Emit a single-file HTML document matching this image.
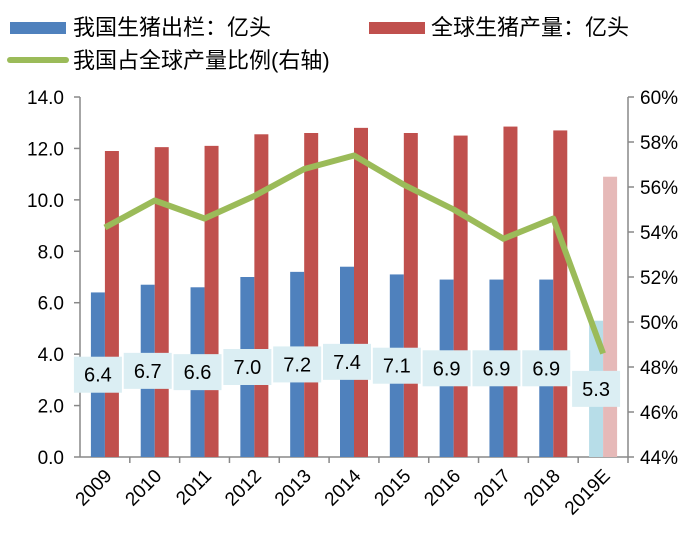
<!DOCTYPE html>
<html><head><meta charset="utf-8"><style>
body{margin:0;background:#fff;}
svg text{font-family:"Liberation Sans","Noto Sans CJK SC",sans-serif;}
</style></head><body>
<svg width="700" height="534">
<g>
<rect x="10" y="22" width="56" height="12" fill="#4f81bd"/>
<text x="73" y="35" font-size="22" fill="#000">我国生猪出栏：亿头</text>
<rect x="369" y="22" width="56" height="12" fill="#c0504d"/>
<text x="431" y="35" font-size="22" fill="#000">全球生猪产量：亿头</text>
<line x1="10" y1="60" x2="66" y2="60" stroke="#9bbb59" stroke-width="6" stroke-linecap="round"/>
<text x="73" y="68" font-size="22" fill="#000">我国占全球产量比例(右轴)</text>
</g>
<g id="axes"></g><g id="bars"></g><g id="line"></g><g id="labels"></g>
</svg>
<script>
const categories=["2009","2010","2011","2012","2013","2014","2015","2016","2017","2018","2019E"];
const chinaValues=[6.4,6.7,6.6,7.0,7.2,7.4,7.1,6.9,6.9,6.9,5.3];
const globalValues=[11.9,12.05,12.1,12.55,12.6,12.8,12.6,12.5,12.85,12.7,10.9];
const shareValues=[54.2,55.4,54.6,55.6,56.8,57.4,56.1,55.0,53.7,54.6,48.6];
const leftTicks=["0.0","2.0","4.0","6.0","8.0","10.0","12.0","14.0"];
const rightTicks=["44%","46%","48%","50%","52%","54%","56%","58%","60%"];
const NS="http://www.w3.org/2000/svg";
const X0=80,X1=628,Y0=457,Y1=97;
const cw=(X1-X0)/categories.length;
const xc=i=>X0+cw*(i+0.5);
const yl=v=>Y0-(v/14)*(Y0-Y1);
const yr=v=>Y0-((v-44)/16)*(Y0-Y1);
function mk(t,a,p){const e=document.createElementNS(NS,t);for(const k in a)e.setAttribute(k,a[k]);p.appendChild(e);return e;}
const ax=document.getElementById('axes'),bg=document.getElementById('bars'),lg=document.getElementById('line'),lb=document.getElementById('labels');
let e=mk('line',{x1:X0,y1:Y1,x2:X0,y2:Y0,stroke:'#888','stroke-width':1.5},ax);


e=mk('line',{x1:X1,y1:Y1,x2:X1,y2:Y0,stroke:'#888','stroke-width':1.5},ax);


e=mk('line',{x1:X0,y1:Y0,x2:X1,y2:Y0,stroke:'#888','stroke-width':1.5},ax);


leftTicks.forEach((t,i)=>{const y=yl(parseFloat(t));
mk('line',{x1:X0-6,y1:y,x2:X0,y2:y,stroke:'#888','stroke-width':1.5},ax);
const tx=mk('text',{x:X0-16,y:y+7,'font-size':19,'text-anchor':'end'},ax);tx.textContent=t;

});
rightTicks.forEach((t,i)=>{const y=yr(parseFloat(t));
mk('line',{x1:X1,y1:y,x2:X1+6,y2:y,stroke:'#888','stroke-width':1.5},ax);
const tx=mk('text',{x:X1+12,y:y+7,'font-size':19},ax);tx.textContent=t;

});
categories.forEach((c,i)=>{const x=X0+cw*(i+1);
mk('line',{x1:x,y1:Y0,x2:x,y2:Y0+6,stroke:'#888','stroke-width':1.5},ax);
const cx=xc(i);
const tx=mk('text',{x:cx+8,y:Y0+20,'font-size':19,'text-anchor':'end',transform:`rotate(-45 ${cx+8} ${Y0+20})`},ax);tx.textContent=c;


const est=c.endsWith('E');
let b=mk('rect',{x:cx-14,y:yl(chinaValues[i]),width:14,height:Y0-yl(chinaValues[i]),fill:est?'#b7dde8':'#4f81bd'},bg);


b=mk('rect',{x:cx,y:yl(globalValues[i]),width:14,height:Y0-yl(globalValues[i]),fill:est?'#e6b9b8':'#c0504d'},bg);


const my=(Y0+yl(chinaValues[i]))/2;
const r=mk('rect',{x:cx-7-24,y:my-18,width:48,height:36,fill:'#dbeef3'},lb);


const vt=mk('text',{x:cx-7,y:my+7,'font-size':20,'text-anchor':'middle'},lb);vt.textContent=chinaValues[i].toFixed(1);


});
const pts=shareValues.map((v,i)=>xc(i)+','+yr(v)).join(' ');
const pl=mk('polyline',{points:pts,fill:'none',stroke:'#9bbb59','stroke-width':6,'stroke-linejoin':'round'},lg);


</script>
</body></html>
